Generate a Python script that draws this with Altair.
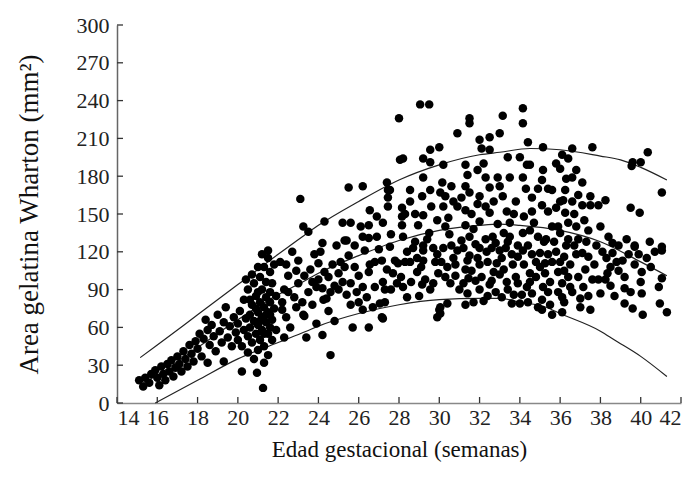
import altair as alt
import pandas as pd

# ---- scatter points (gestational age in weeks, Wharton jelly area mm²), read by eye ----
band_a = [(15.1,18),(15.3,13),(15.4,20),(15.6,16),(15.7,23),(15.9,26),(16.0,20),(16.1,14),(16.2,29),(16.3,23),
          (16.4,18),(16.5,31),(16.6,25),(16.7,34),(16.8,21),(16.9,28),(17.0,37),(17.1,31),(17.2,25),(17.3,41),
          (17.4,35),(17.5,29),(17.6,46),(17.7,39),(17.8,33),(17.9,49),(18.0,43),(18.1,55),(18.2,37),(18.3,51),
          (18.4,66),(18.5,32),(18.5,58),(18.6,46),(18.7,62),(18.8,53),(18.9,41),(19.0,70),(19.1,57),(19.2,48),
          (19.3,33),(19.3,64),(19.4,76),(19.5,52),(19.6,61),(19.7,45),(19.8,68),(19.9,56),(20.0,50),(20.0,63),
          (20.1,73),(20.2,25),(20.2,45),(20.3,58),(20.3,82),(20.4,67),(20.4,98)]
band_b = [(20.5,40),(20.5,53),(20.5,90),(20.6,70),(20.6,60),(20.7,48),(20.7,78),(20.7,102),(20.8,35),(20.8,65),
          (20.8,95),(20.9,55),(20.9,85),(20.95,24),(21.0,42),(21.0,72),(21.0,62),(21.0,108),(21.1,50),(21.1,80),
          (21.1,100),(21.2,58),(21.2,68),(21.2,90),(21.25,12),(21.3,45),(21.3,76),(21.3,108),(21.3,32),(21.4,64),
          (21.4,84),(21.4,96),(21.5,55),(21.5,72),(21.5,115),(21.5,121),(21.5,38),(21.6,60),(21.6,80),(21.6,88),
          (21.6,104),(21.7,66),(21.7,95),(21.7,50),(21.8,75),(21.8,110),(21.9,58),(21.9,85),(20.6,82),(20.9,75),
          (21.2,118),(21.4,70),(21.6,70),(21.1,65),(21.3,55),(21.0,88)]
band_c = [(22.1,112),(22.5,101),(22.3,90),(22.2,80),(22.2,74),(22.4,68),(22.3,52),(23.0,113),(23.3,101),(23.0,95),
          (23.5,88),(23.3,69),(23.4,52),(24.2,54),(24.6,38),(24.0,111),(24.3,104),(23.9,92),(24.4,83),(24.2,91),
          (23.1,162),(23.25,140),(23.5,136),(24.3,144),(24.2,127),(23.25,70),(24.25,82),(22.7,120),(22.8,84),
          (23.7,78),(24.0,98),(24.7,110),(24.8,93),(24.5,73),(22.6,60),(23.8,118),(24.9,125),(23.6,106),(22.9,76),
          (24.6,88),(22.5,88),(22.9,105),(23.2,80),(23.7,96),(24.1,120),(24.5,100),(24.8,65),(23.9,63),(22.4,110)]
band_d = [(25.0,103),(25.2,96),(25.6,95),(25.4,86),(25.6,78),(25.5,117),(26.0,101),(26.3,121),(26.55,110),(26.5,104),
          (26.2,74),(26.7,76),(27.05,79),(27.15,68),(26.5,60),(27.15,113),(27.4,106),(27.2,96),(27.3,90),(27.55,124),
          (27.8,113),(25.3,129),(25.5,171),(26.2,172),(27.4,175),(27.45,169),(27.45,163),(27.45,156),(26.55,153),
          (26.9,148),(27.2,143),(25.2,143),(25.6,143),(26.5,141),(25.4,129),(26.2,132),(26.5,131),(27.2,67),
          (25.9,88),(26.8,92),(27.7,103),(27.95,111),(25.1,112),(26.1,140),(27.9,95),(26.4,84),(27.6,134),
          (27.0,122),(25.8,108),(27.55,169),(25.0,90),(25.3,108),(25.8,125),(26.2,92),(26.8,112),(27.3,80),
          (27.6,90),(26.0,80),(25.7,60),(26.9,132)]
band_e = [(28.0,226),(28.05,193),(29.05,237),(29.5,237),(28.2,194),(29.2,194),(29.55,191),(30.2,189),(29.55,201),
          (30.0,203),(30.9,214),(29.2,179),(28.55,169),(30.15,175),(29.15,164),(29.55,169),(30.05,167),(30.3,164),
          (28.55,160),(28.15,155),(28.15,148),(28.15,141),(29.2,149),(29.6,156),(30.2,156),(30.45,147),(30.9,156),
          (28.95,141),(28.2,132),(29.2,125),(29.9,68),(30.0,74),(30.4,79),(29.55,90),(28.2,92),(29.15,94),(28.3,112),
          (28.55,112),(29.2,113),(29.95,103),(30.55,95),(31.0,90),(29.2,121),(30.2,123),(30.9,121),(30.4,108),
          (30.05,76),(30.05,71),(28.7,123),(29.7,123),(30.5,134),(28.9,104),(29.5,135),(30.7,115),(28.4,84),
          (29.0,85),(30.8,101),(29.8,112),(28.8,128),(30.3,140),(28.1,100),(28.4,120),(28.6,96),(28.9,115),
          (29.1,108),(29.3,98),(29.4,130),(29.7,95),(29.9,118),(30.1,112),(30.3,100),(30.6,125),(30.8,110),
          (28.3,150),(28.8,150),(29.9,145),(30.7,160),(30.6,172)]
band_f = [(31.5,226),(31.5,222),(33.15,228),(32.0,209),(32.5,211),(33.0,214),(32.1,202),(32.5,201),(31.3,189),
          (31.4,181),(31.9,185),(32.3,179),(32.9,179),(33.5,179),(32.5,171),(31.1,163),(31.5,167),(32.0,164),
          (33.15,164),(31.3,153),(32.3,156),(32.5,151),(33.35,152),(33.5,143),(31.3,141),(32.0,144),(31.5,132),
          (32.65,132),(33.5,132),(31.3,78),(32.0,90),(33.6,79),(33.0,102),(33.35,96),(33.4,90),(31.4,87),(31.45,99),
          (31.3,106),(31.5,117),(32.35,120),(33.0,121),(32.0,110),(32.85,111),(33.65,110),(31.2,123),(32.0,123),
          (32.6,123),(33.3,123),(31.8,97),(32.5,94),(33.8,100),(32.2,81),(31.7,138),(32.9,142),(33.8,160),
          (31.9,115),(32.8,88),(33.2,135),(31.6,150),(32.7,104),(33.9,116),(31.1,129),(33.7,86),
          (31.2,95),(31.4,113),(31.6,105),(31.8,126),(32.1,100),(32.3,130),(32.4,112),(32.6,97),(32.8,127),
          (33.1,115),(33.2,106),(33.4,128),(33.6,118),(33.9,125),(31.9,158),(32.7,160),(33.0,172),(33.7,150),
          (31.3,172),(32.2,190),(33.4,195),(31.7,80),(32.4,85),(33.1,84),(33.9,95)]
band_g = [(34.15,234),(34.15,222),(34.4,207),(34.0,195),(34.35,189),(34.15,179),(35.15,203),(36.6,202),(36.1,197),
          (36.4,194),(34.5,189),(35.15,185),(36.0,186),(36.6,179),(35.1,177),(35.6,169),(36.25,169),(36.15,161),
          (34.6,163),(35.1,157),(35.4,152),(34.6,152),(36.25,151),(36.4,143),(34.5,137),(34.9,132),(35.6,140),
          (34.15,135),(34.15,121),(34.5,103),(34.35,92),(34.0,79),(34.1,86),(36.6,88),(36.1,84),(36.1,72),(35.6,70),
          (35.5,78),(35.1,82),(35.1,74),(35.15,92),(34.6,87),(34.5,96),(35.9,104),(36.1,95),(35.0,119),(35.25,111),
          (35.25,103),(36.5,110),(36.3,125),(35.7,128),(36.8,118),(34.8,112),(35.4,118),(36.0,135),(36.7,150),
          (35.8,155),(34.3,170),(36.9,130),(35.5,96),(36.4,100),(34.7,143),(35.9,88),(36.2,116),(36.9,100),(34.9,76),
          (34.2,110),(34.4,125),(34.6,118),(34.8,100),(35.0,108),(35.2,128),(35.4,88),(35.6,112),(35.8,120),
          (35.9,140),(36.0,112),(36.2,105),(36.4,130),(36.5,92),(36.7,125),(36.8,140),(36.9,165),(36.8,185),
          (36.3,178),(35.8,190),(35.4,170),(36.6,160),(36.0,160),(34.9,170),(34.2,148),(36.2,80),(35.3,130),
          (34.4,80)]
band_h = [(37.6,203),(40.35,199),(39.6,191),(40.0,191),(39.55,188),(41.05,167),(39.5,155),(39.95,151),(37.1,175),
          (37.5,164),(37.1,157),(37.5,157),(37.9,157),(38.25,161),(37.4,137),(38.0,140),(38.4,132),(38.6,127),
          (39.7,125),(40.45,128),(41.05,124),(41.05,121),(41.05,99),(40.95,79),(41.3,72),(40.1,70),(39.2,79),
          (39.6,75),(39.2,91),(40.05,87),(40.0,96),(40.05,104),(39.2,100),(39.7,110),(39.1,113),(39.7,124),
          (38.6,119),(38.25,98),(38.0,87),(38.35,103),(37.5,74),(37.0,76),(37.0,83),(37.15,92),(37.25,106),
          (37.4,116),(37.1,119),(37.3,128),(38.8,112),(39.4,118),(40.3,115),(37.8,125),(38.9,105),(37.6,98),
          (40.5,108),(38.5,93),(37.2,145),(38.3,115),(37.7,110),(38.1,120),(38.5,108),(38.9,125),(39.3,130),
          (39.9,118),(40.7,120),(40.9,92),(38.7,85),(39.5,88),(37.9,98),(37.4,85)]

# ---- percentile curves, read by eye ----
upper_x = [15.15, 16, 18, 20, 22, 23.2, 24, 26, 28, 30, 32, 33, 34.5, 36, 38, 39, 40, 41.3]
upper_y = [36, 46, 70, 94, 118, 132, 141, 160, 177, 189, 197, 199, 202, 201, 196, 193, 187, 177]
middle_x = [15.2, 16, 18, 20, 22, 23.1, 24, 26, 28, 30, 32, 33, 34, 36, 38, 40, 41.3]
middle_y = [15, 22, 44, 66, 86, 95, 103, 117, 129, 137, 141, 142, 141, 137, 128, 112, 101]
lower_x = [15.9, 18, 20, 22, 23.4, 24, 26, 28, 30, 32, 33, 34, 35.3, 36, 38, 38.7, 40, 41.3]
lower_y = [0, 18, 35, 48, 57, 61, 71, 78, 82, 83, 83, 80, 76, 71, 57, 50, 37, 21]

x_ticks = list(range(14, 43, 2))
y_ticks = list(range(0, 301, 30))

FONT = "Liberation Serif"

points = pd.DataFrame(band_a + band_b + band_c + band_d + band_e + band_f + band_g + band_h,
                      columns=["ga", "area"])
curves = pd.concat([
    pd.DataFrame({"ga": upper_x, "area": upper_y, "curve": "upper"}),
    pd.DataFrame({"ga": middle_x, "area": middle_y, "curve": "middle"}),
    pd.DataFrame({"ga": lower_x, "area": lower_y, "curve": "lower"}),
])

xscale = alt.Scale(domain=[14, 42], nice=False, zero=False)
yscale = alt.Scale(domain=[0, 300], nice=False)

xaxis = alt.Axis(values=x_ticks, title="Edad gestacional (semanas)", ticks=False, grid=False,
                 labelFont=FONT, labelFontSize=22, labelColor="#222", labelPadding=4,
                 titleFont=FONT, titleFontSize=23, titleFontWeight="normal", titleColor="#111",
                 titlePadding=10, domainColor="#888", domainWidth=1.5)
yaxis = alt.Axis(values=y_ticks, title="Area gelatina Wharton (mm²)", ticks=False, grid=False,
                 labelFont=FONT, labelFontSize=22, labelColor="#222", labelPadding=8,
                 titleFont=FONT, titleFontSize=27, titleFontWeight="normal", titleColor="#111",
                 titlePadding=33, domainColor="#666", domainWidth=1.5)

X = alt.X("ga:Q", scale=xscale, axis=xaxis)
Y = alt.Y("area:Q", scale=yscale, axis=yaxis)

scatter = alt.Chart(points).mark_circle(size=72, color="black", opacity=1).encode(x=X, y=Y)

lines = alt.Chart(curves).mark_line(color="#222", strokeWidth=1.2, interpolate="monotone").encode(
    x=X, y=Y, detail="curve:N",
)

xtick_layer = alt.Chart(pd.DataFrame({"ga": x_ticks})).mark_rule(color="#333", strokeWidth=1.3).encode(
    x=X, y=alt.value(378), y2=alt.value(372),
)
ytick_layer = alt.Chart(pd.DataFrame({"area": y_ticks})).mark_rule(color="#333", strokeWidth=1.3).encode(
    y=Y, x=alt.value(0), x2=alt.value(6),
)

chart = alt.layer(lines, scatter, xtick_layer, ytick_layer).properties(
    width=564, height=378,
    autosize=alt.AutoSizeParams(type="none"),
    padding={"left": 117, "top": 25, "right": 14, "bottom": 80},
    background="white",
).configure_view(stroke=None)

chart.save("out.html", embed_options={"renderer": "svg", "actions": False})
